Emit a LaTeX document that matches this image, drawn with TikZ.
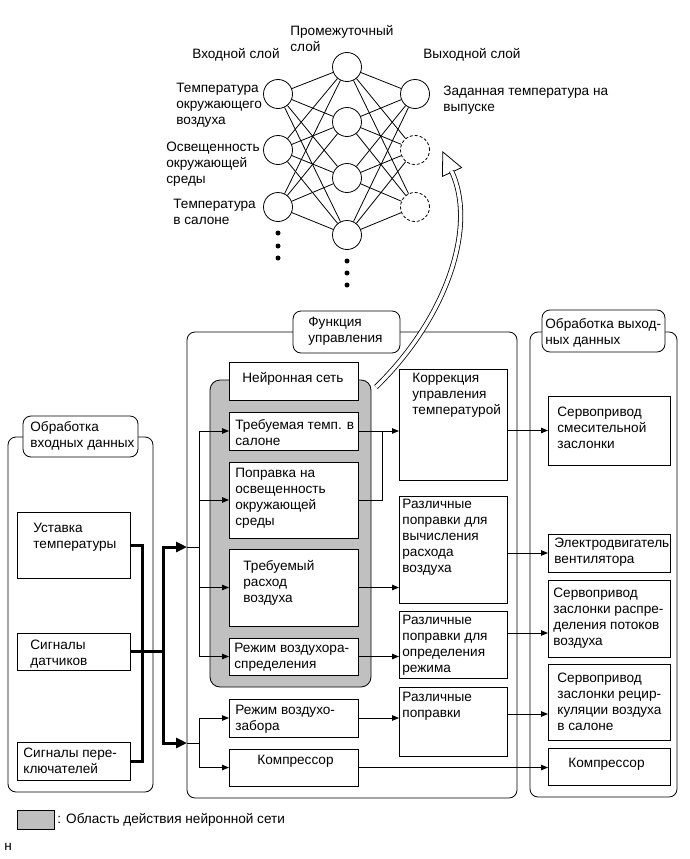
\documentclass[tikz,border=0pt]{standalone}
\usepackage{fontspec}
\setmainfont{Liberation Sans}
\usepackage{xcolor}
\usetikzlibrary{arrows.meta,positioning,calc}
\newcommand{\dfont}{\fontsize{13.6}{16}\selectfont}
\definecolor{nnfill}{HTML}{C0C0C0}

\begin{document}
\begin{tikzpicture}[
    x=1pt, y=-1pt, line width=0.8pt,
    blk/.style 2 args={draw, fill=white, inner sep=0pt, outer sep=0pt, minimum width=#1, minimum height=#2},
    grp/.style 2 args={blk={#1}{#2}, rounded corners=8pt},
    txt/.style={anchor=north west, align=left, inner sep=0pt, font=\dfont},
    neuron/.style={draw, circle, minimum size=29pt, inner sep=0pt},
    spare/.style={neuron, dash pattern=on 3pt off 2pt},
    dotmark/.style={fill, circle, inner sep=0pt, minimum size=5pt},
    link/.style={line width=0.8pt},
    flow/.style={line width=0.9pt, -{Triangle[length=7pt,width=5.5pt]}},
    busline/.style={line width=3pt},
    bus/.style={line width=3pt, -{Triangle[length=11pt,width=10pt]}}
]
\useasboundingbox (0,0) rectangle (689,859);

% neural network
\foreach \y [count=\i] in {94,150,207}
  \node[neuron] (in\i) at (278,\y) {};
\foreach \y [count=\i] in {67,122,178,235}
  \node[neuron] (hd\i) at (347,\y) {};
\node[neuron] (out1) at (415,94) {};
\node[spare] (out2) at (415,150) {};
\node[spare] (out3) at (415,207) {};
\foreach \i in {1,2,3}
  \foreach \j in {1,...,4}
    \draw[link] (in\i) -- (hd\j);
\foreach \j in {1,...,4}
  \foreach \k in {1,2,3}
    \draw[link] (hd\j) -- (out\k);
\foreach \y [count=\i] in {233,246,258}
  \node[dotmark] (ind\i) at (278,\y) {};
\foreach \y [count=\i] in {261,273,285}
  \node[dotmark] (hdd\i) at (347,\y) {};

\node[txt] (lin) at (192,48) {Входной слой};
\node[txt] (lhd) at (290,25) {Промежуточный\\слой};
\node[txt] (lout) at (423,48) {Выходной слой};
\node[txt] (tout) at (443,86) {Заданная температура на\\выпуске};
\node[txt] (tin1) at (176,83) {Температура\\окружающего\\воздуха};
\node[txt] (tin2) at (166,142) {Освещенность\\окружающей\\среды};
\node[txt] (tin3) at (173,199) {Температура\\в салоне};

% input processing
\node[grp={145}{355}] (inbox) at (80.5,614.5) {};
\node[grp={115}{41}] (inlbl) at (80.5,436.5) {};
\node[txt] at (30,421) {Обработка\\входных данных};
\node[blk={113}{66}] (ust) at (73.5,545) {};
\node[txt] at (33,523) {Уставка\\температуры};
\node[blk={113}{37}] (dat) at (73.5,651.5) {};
\node[txt] at (30,640) {Сигналы\\датчиков};
\node[blk={113}{38}] (perekl) at (73.5,761) {};
\node[txt] at (23,748) {Сигналы пере-\\ключателей};

% control function
\node[grp={330}{466}] (fn) at (352,565) {};
\node[grp={107}{42}] (fnlbl) at (346.5,332) {};
\node[txt] at (308,317) {Функция\\управления};
\node[grp={161}{307}, fill=nnfill, rounded corners=10pt] (nnarea) at (290.5,533.5) {};
\node[blk={129}{38}] (nn) at (293.5,381) {};
\node[txt] at (242,372) {Нейронная сеть};
\node[blk={129}{38}] (trt) at (293.5,431) {};
\node[txt] at (235,419) {Требуемая темп. в\\салоне};
\node[blk={129}{76}] (popr) at (293.5,500) {};
\node[txt] at (235,468) {Поправка на\\освещенность\\окружающей\\среды};
\node[blk={129}{77}] (rash) at (293.5,587.5) {};
\node[txt] at (243,560) {Требуемый\\расход\\воздуха};
\node[blk={129}{37}] (rezh) at (293.5,656.5) {};
\node[txt] at (234,643) {Режим воздухора-\\спределения};
\node[blk={129}{38}] (zabor) at (293.5,718) {};
\node[txt] at (235,705) {Режим воздухо-\\забора};
\node[blk={129}{37}] (kompr) at (293.5,767.5) {};
\node[txt] at (257,755) {Компрессор};
\node[blk={108}{111}] (korr) at (453,424.5) {};
\node[txt] at (412,373) {Коррекция\\управления\\температурой};
\node[blk={108}{107}] (rv) at (453,549.5) {};
\node[txt] at (402,499) {Различные\\поправки для\\вычисления\\расхода\\воздуха};
\node[blk={108}{67}] (ro) at (453,644.5) {};
\node[txt] at (402,615) {Различные\\поправки для\\определения\\режима};
\node[blk={108}{69}] (rp) at (453,721.5) {};
\node[txt] at (402,692) {Различные\\поправки};

% output processing
\node[grp={147}{465}] (outbox) at (603.5,564.5) {};
\node[grp={123}{42}] (outlbl) at (603.5,331) {};
\node[txt] at (545,318) {Обработка выход-\\ных данных};
\node[blk={122}{69}] (o1) at (609,430.5) {};
\node[txt] at (557,407) {Сервопривод\\смесительной\\заслонки};
\node[blk={122}{38}] (o2) at (609,553) {};
\node[txt] at (554,538) {Электродвигатель\\вентилятора};
\node[blk={122}{77}] (o3) at (609,618.5) {};
\node[txt] at (553,588) {Сервопривод\\заслонки распре-\\деления потоков\\воздуха};
\node[blk={122}{76}] (o4) at (609,702) {};
\node[txt] at (557,673) {Сервопривод\\заслонки рецир-\\куляции воздуха\\в салоне};
\node[blk={122}{37}] (o5) at (609,766.5) {};
\node[txt] at (568,758) {Компрессор};

% inputs to control function
\draw[busline] (ust.east) -- ++(12,0) |- (perekl.east);
\draw[busline] (dat.east) -- ++(33,0) coordinate (split);
\coordinate (brA) at (199,547);
\coordinate (brB) at (199,743);
\draw[bus] (split) |- (fn.west |- brA);
\draw[bus] (split) |- (fn.west |- brB);
\draw[link] (fn.west |- brA) -- (brA);
\draw[link] (fn.west |- brB) -- (brB);
\draw[flow] (brA) |- (trt.west);
\draw[flow] (brA) |- (popr.west);
\draw[flow] (brA) |- (rash.west);
\draw[flow] (brA) |- (rezh.west);
\draw[flow] (brB) |- (zabor.west);
\draw[flow] (brB) |- (kompr.west);

% inside control function
\draw[flow] (trt.east) -- (korr.west |- trt.east);
\draw[link] (popr.east) -| ($(trt.east)+(24,0)$);
\draw[flow] (rash.east) -- (rv.west |- rash.east);
\draw[flow] (rezh.east) -- (ro.west |- rezh.east);
\draw[flow] (zabor.east) -- (rp.west |- zabor.east);

% to output processing
\draw[flow] (korr.east |- o1.west) -- (o1.west);
\draw[flow] (rv.east |- o2.west) -- (o2.west);
\draw[flow] ([yshift=11.5pt]ro.east) coordinate (roO) -- (o3.west |- roO);
\draw[flow] ([yshift=7.5pt]rp.east) coordinate (rpO) -- (o4.west |- rpO);
\draw[flow] (kompr.east) -- (o5.west |- kompr.east);

% hollow arrow to the network
\coordinate (arrS) at (376,387);
\coordinate (arrE) at (451.5,171);
\filldraw[fill=white] (442.8,151.9) -- (461.6,167.6) -- (442.4,176.4) -- cycle;
\draw[double=white, double distance=3.5pt, line width=0.8pt] (arrS) .. controls (445,320) and (478,228) .. (arrE);

% legend
\node[blk={37}{19}, fill=nnfill] (key) at (35.5,819.5) {};
\node[txt, anchor=west] (keytxt) at (57,819.5) {: Область действия нейронной сети};
\node[txt, anchor=west] (mark) at (4,847) {н};
\end{tikzpicture}
\end{document}
